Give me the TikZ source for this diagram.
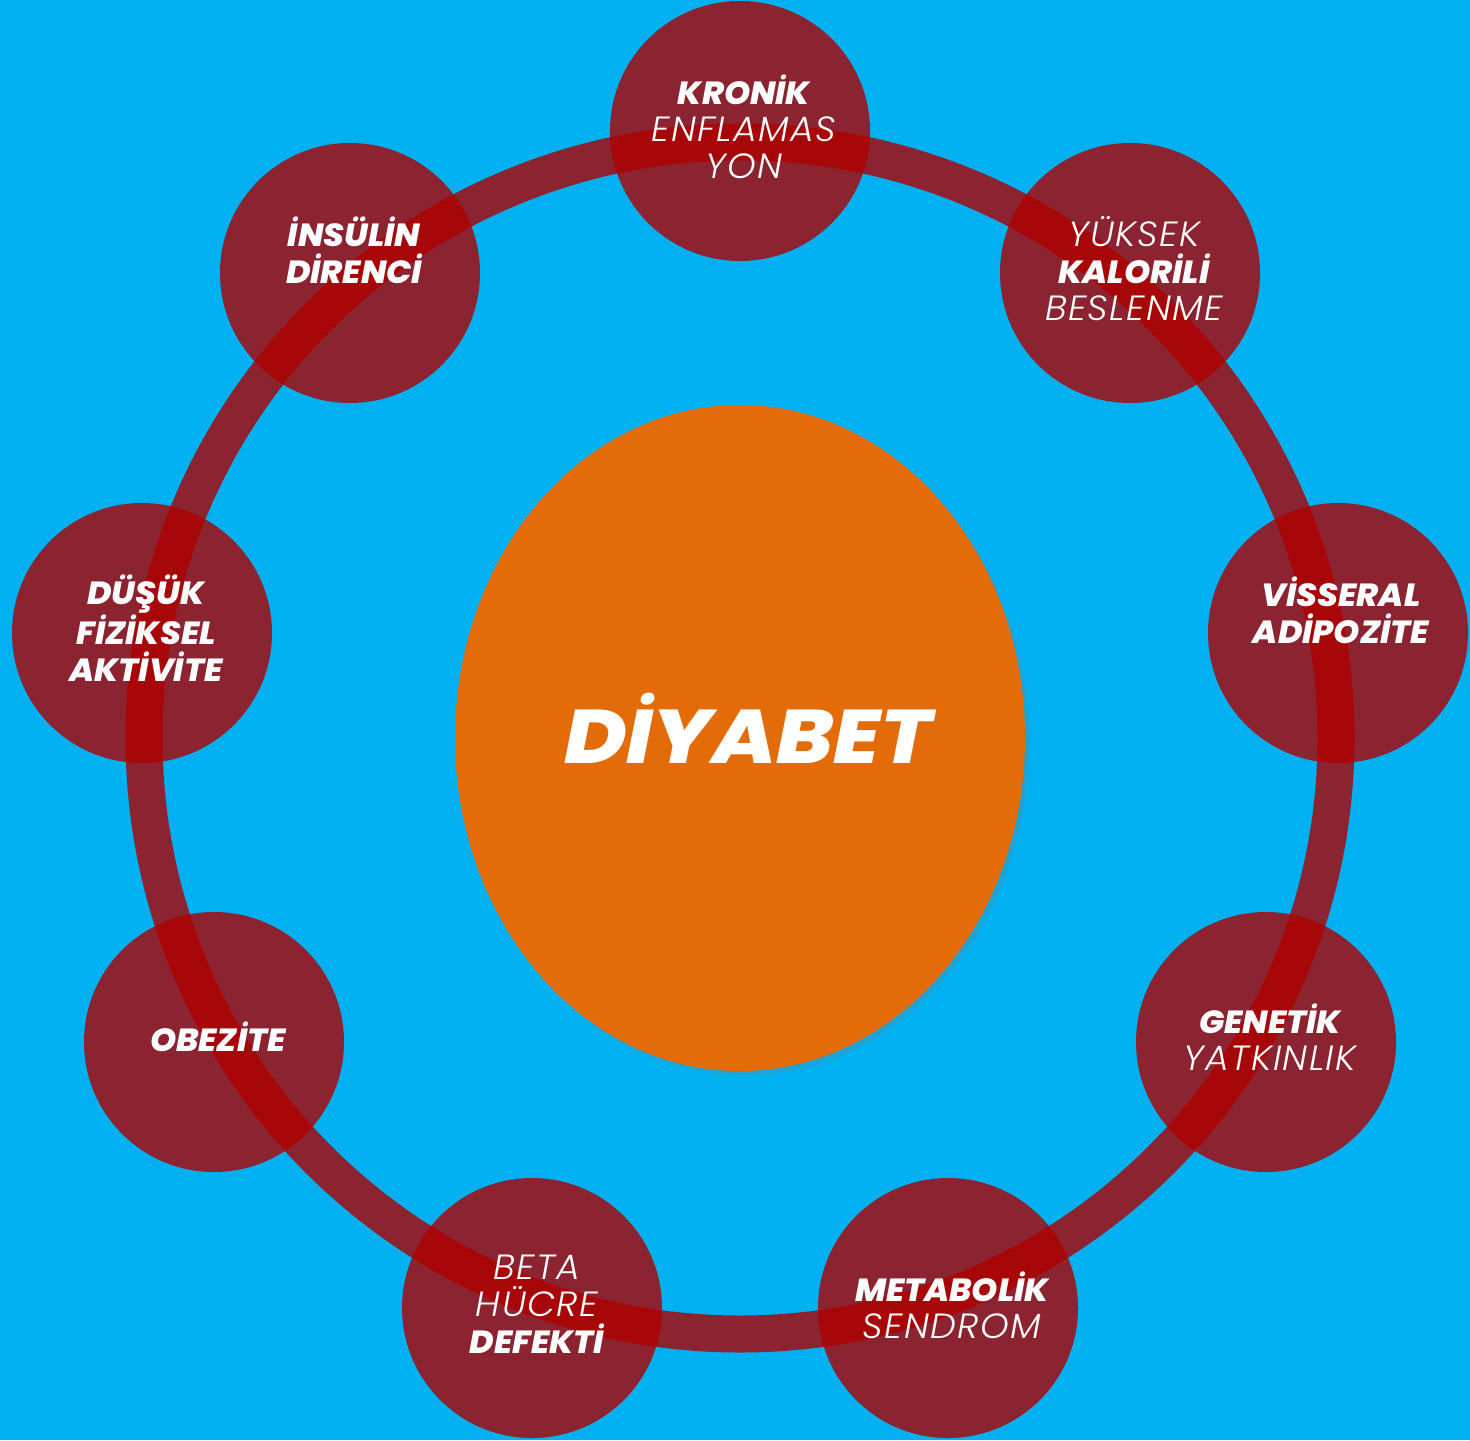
\documentclass[tikz,border=0pt]{standalone}
\usepackage{fontspec}
\setmainfont{Poppins}
\newfontfamily\hvy{Poppins ExtraBold Italic}[FakeStretch=1.04]
\newfontfamily\hvybig{Poppins ExtraBold Italic}[FakeStretch=1.12]
\newfontfamily\lte{Poppins Light Italic}[LetterSpace=4,FakeStretch=1.04]
\usetikzlibrary{shapes.geometric,shadows}
\definecolor{bg}{HTML}{00B0F0}
\definecolor{ringred}{HTML}{B00000}
\definecolor{orng}{HTML}{E36C09}
\tikzset{
  ringline/.style={draw=ringred, draw opacity=0.8, line width=18.5pt},
  bubble/.style={circle, fill=ringred, fill opacity=0.8, minimum size=130pt, inner sep=0pt},
  lbl/.style={text=white, align=center, font=\fontsize{16}{18.5}\selectfont},
}
\newcommand{\B}[1]{{\hvy #1}}
\newcommand{\Lt}[1]{{\lte\fontsize{17.5}{18.5}\selectfont #1}}
\begin{document}
\begin{tikzpicture}[x=0.5pt,y=-0.5pt]
\fill[bg] (0,0) rectangle (1470,1440);
\useasboundingbox (0,0) rectangle (1470,1440);
% ring
\draw[ringline] (740,738) circle [radius=596];
% central ellipse
\node[ellipse, fill=orng, minimum width=285pt, minimum height=333pt, inner sep=0pt,
  drop shadow={opacity=0.25, shadow xshift=2pt, shadow yshift=-2pt}] (dia) at (740,738) {};
\node[text=white, font=\hvybig\fontsize{38}{42}\selectfont] (diat) at (748,728) {DİYABET};
% bubbles
\node[bubble] (kron) at (740,131) {};
\node[bubble] (yuk) at (1130,273) {};
\node[bubble] (vis) at (1338,633) {};
\node[bubble] (gen) at (1266,1042) {};
\node[bubble] (met) at (948,1308) {};
\node[bubble] (beta) at (532,1308) {};
\node[bubble] (obez) at (214,1042) {};
\node[bubble] (dus) at (142,633) {};
\node[bubble] (ins) at (350,273) {};
% labels
\node[lbl] (kront) at (744,127) {\B{KRONİK}\\\Lt{ENFLAMAS}\\\Lt{YON}};
\node[lbl] (yukt) at (1134,269) {\Lt{YÜKSEK}\\\B{KALORİLİ}\\\Lt{BESLENME}};
\node[lbl] (vist) at (1341,610) {\B{VİSSERAL}\\\B{ADİPOZİTE}};
\node[lbl] (gent) at (1270,1037) {\B{GENETİK}\\\Lt{YATKINLIK}};
\node[lbl] (mett) at (952,1305) {\B{METABOLİK}\\\Lt{SENDROM}};
\node[lbl] (betat) at (537,1304) {\Lt{BETA}\\\Lt{HÜCRE}\\\B{DEFEKTİ}};
\node[lbl] (obezt) at (218,1037) {\B{OBEZİTE}};
\node[lbl] (dust) at (146,628) {\B{DÜŞÜK}\\\B{FİZİKSEL}\\\B{AKTİVİTE}};
\node[lbl] (inst) at (354,250) {\B{İNSÜLİN}\\\B{DİRENCİ}};
\end{tikzpicture}
\end{document}
